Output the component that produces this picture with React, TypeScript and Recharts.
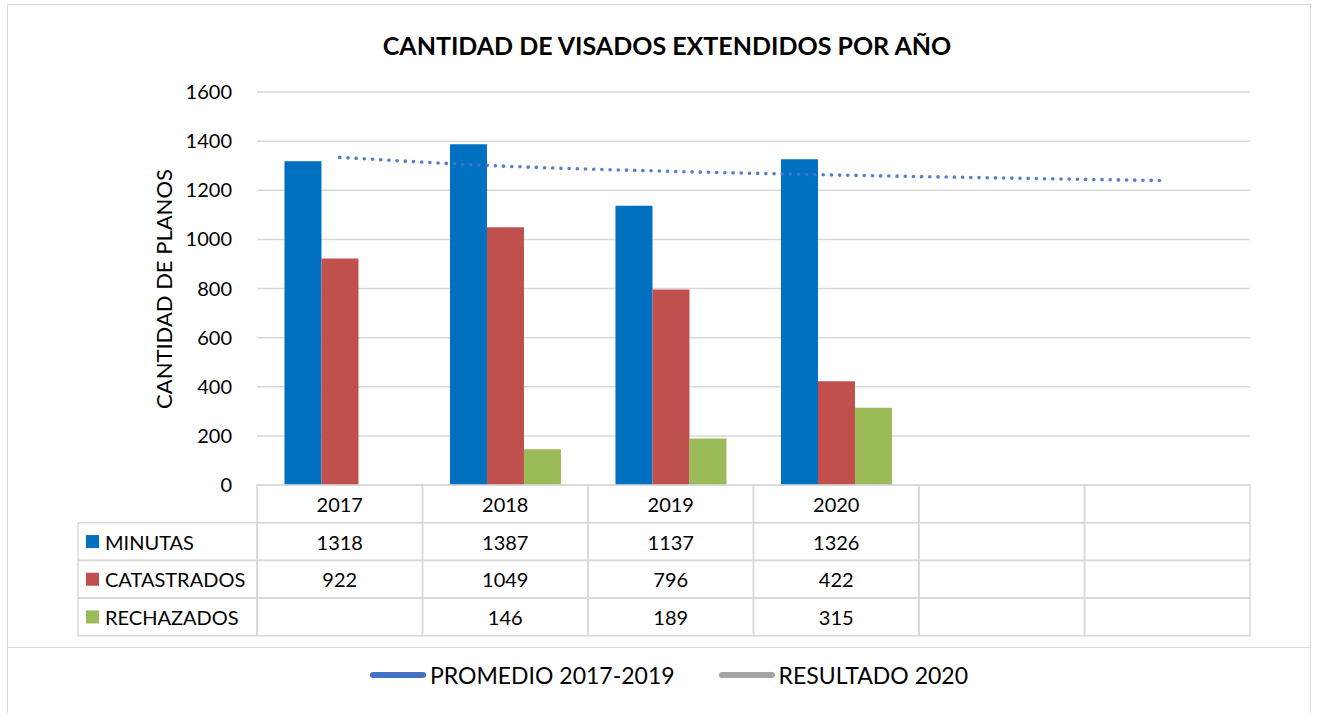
import React from "react";
import { ComposedChart, Bar, Line, XAxis, YAxis, CartesianGrid } from "recharts";

const categories = ["2017", "2018", "2019", "2020", "", " "];
const minutas: (number | null)[] = [1318, 1387, 1137, 1326, null, null];
const catastrados: (number | null)[] = [922, 1049, 796, 422, null, null];
const rechazados: (number | null)[] = [null, 146, 189, 315, null, null];
const trendValues = [1334, 1298, 1277, 1262, 1250, 1239];
const yTicks = [0, 200, 400, 600, 800, 1000, 1200, 1400, 1600];

const seriesNames = ["MINUTAS", "CATASTRADOS", "RECHAZADOS"];
const seriesColors = ["#0070C0", "#C0504D", "#9BBB59"];
const seriesValues = [minutas, catastrados, rechazados];

const legendNames = ["PROMEDIO 2017-2019", "RESULTADO 2020"];
const legendColors = ["#4472C4", "#A5A5A5"];

const data = categories.map((year, i) => ({
  year,
  minutas: minutas[i],
  catastrados: catastrados[i],
  rechazados: rechazados[i],
  trend: trendValues[i],
}));

const FONT = "Lato, 'Open Sans', sans-serif";
const PLOT_LEFT = 257;
const PLOT_RIGHT = 1250;
const BAND = (PLOT_RIGHT - PLOT_LEFT) / categories.length;
const TABLE_TOP = 485;
const ROW_H = 37.7;
const GRID = "#D9D9D9";

function TableTick(props: any) {
  const { x } = props;
  const index = props.payload?.index ?? props.index ?? 0;
  const left = x - BAND / 2;
  const cells: React.ReactNode[] = [];
  cells.push(
    <rect key="h" x={left} y={TABLE_TOP} width={BAND} height={ROW_H} fill="none" stroke={GRID} strokeWidth={1.5} />
  );
  cells.push(
    <text key="ht" x={x} y={TABLE_TOP + ROW_H / 2} textAnchor="middle" dominantBaseline="central" fontFamily={FONT} fontSize={20} fill="#000">
      {categories[index]}
    </text>
  );
  seriesValues.forEach((vals, r) => {
    const top = TABLE_TOP + ROW_H * (r + 1);
    cells.push(
      <rect key={"r" + r} x={left} y={top} width={BAND} height={ROW_H} fill="none" stroke={GRID} strokeWidth={1.5} />
    );
    const v = vals[index];
    if (v != null) {
      cells.push(
        <text key={"t" + r} x={x} y={top + ROW_H / 2} textAnchor="middle" dominantBaseline="central" fontFamily={FONT} fontSize={20} fill="#000">
          {v}
        </text>
      );
    }
  });
  if (index === 0) {
    const labLeft = 78;
    seriesNames.forEach((name, r) => {
      const top = TABLE_TOP + ROW_H * (r + 1);
      cells.push(
        <rect key={"l" + r} x={labLeft} y={top} width={left - labLeft} height={ROW_H} fill="none" stroke={GRID} strokeWidth={1.5} />
      );
      cells.push(
        <rect key={"k" + r} x={86} y={top + ROW_H / 2 - 6.5} width={13} height={13} fill={seriesColors[r]} />
      );
      cells.push(
        <text key={"n" + r} x={105} y={top + ROW_H / 2} dominantBaseline="central" fontFamily={FONT} fontSize={20} fill="#000">
          {name}
        </text>
      );
    });
  }
  return <g>{cells}</g>;
}

export default function App() {
  return (
    <div style={{ position: "absolute", left: 0, top: 0, width: 1318, height: 713, overflow: "hidden", background: "#fff" }}>
      <div style={{ position: "absolute", left: 7, top: 4, width: 1302, height: 760, border: `1.5px solid ${GRID}` }} />
      <div style={{ position: "absolute", left: 7, top: 647, width: 1304, height: 0, borderTop: `1.5px solid ${GRID}` }} />
      <div
        style={{
          position: "absolute",
          left: 0,
          width: 1318,
          top: 29,
          textAlign: "center",
          fontFamily: FONT,
          fontWeight: 700,
          fontSize: 25,
          color: "#000",
          lineHeight: "32px",
          paddingLeft: 8,
        }}
      >
        CANTIDAD DE VISADOS EXTENDIDOS POR AÑO
      </div>
      <div
        style={{
          position: "absolute",
          left: 163,
          top: 289,
          transform: "translate(-50%, -50%) rotate(-90deg)",
          whiteSpace: "nowrap",
          fontFamily: FONT,
          fontSize: 22,
          color: "#000",
        }}
      >
        CANTIDAD DE PLANOS
      </div>
      <div style={{ position: "absolute", left: 0, top: 0 }}>
        <ComposedChart
          width={1318}
          height={713}
          data={data}
          margin={{ top: 92, right: 1318 - PLOT_RIGHT, bottom: 0, left: 157 }}
          barCategoryGap="16.6%"
          barGap={0}
        >
          <CartesianGrid vertical={false} stroke={GRID} strokeWidth={1.5} />
          <XAxis
            dataKey="year"
            interval={0}
            tickLine={false}
            axisLine={false}
            tickSize={0}
            tickMargin={0}
            height={713 - TABLE_TOP}
            tick={<TableTick />}
          />
          <YAxis
            width={100}
            domain={[0, 1600]}
            ticks={yTicks}
            tickLine={false}
            axisLine={false}
            tickSize={0}
            tickMargin={25}
            tick={{ fontFamily: FONT, fontSize: 20, fill: "#000" }}
          />
          <Bar dataKey="minutas" fill={seriesColors[0]} isAnimationActive={false} />
          <Bar dataKey="catastrados" fill={seriesColors[1]} isAnimationActive={false} />
          <Bar dataKey="rechazados" fill={seriesColors[2]} isAnimationActive={false} />
          <Line
            dataKey="trend"
            type="monotone"
            stroke="#4472C4"
            strokeOpacity={0.9}
            strokeWidth={3.6}
            strokeDasharray="0.1 8.1"
            strokeLinecap="round"
            dot={false}
            activeDot={false}
            isAnimationActive={false}
          />
        </ComposedChart>
      </div>
      <div
        style={{
          position: "absolute",
          left: 0,
          top: 661,
          width: 1318,
          display: "flex",
          justifyContent: "center",
          alignItems: "center",
          fontFamily: FONT,
          fontSize: 23,
          color: "#000",
          paddingLeft: 10,
        }}
      >
        {legendNames.map((n, i) => (
          <div key={n} style={{ display: "flex", alignItems: "center", marginRight: i === 0 ? 44 : 0 }}>
            <div style={{ width: 56, height: 6, borderRadius: 3, background: legendColors[i], marginRight: 4 }} />
            <span>{n}</span>
          </div>
        ))}
      </div>
    </div>
  );
}
